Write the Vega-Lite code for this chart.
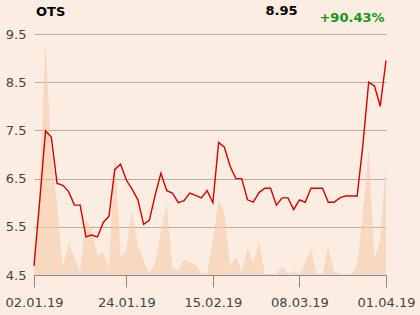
{
  "$schema": "https://vega.github.io/schema/vega-lite/v6.json",
  "width": 352,
  "height": 241,
  "autosize": {"type": "none"},
  "padding": {"left": 34, "top": 34, "right": 34, "bottom": 40},
  "background": "#fcede2",
  "config": {"view": {"stroke": null}, "font": "DejaVu Sans"},
  "data": {"values": [
    {"d": "02.01.19", "p": 4.69, "v": 120},
    {"d": "03.01.19", "p": 6.05, "v": 900},
    {"d": "04.01.19", "p": 7.49, "v": 2330},
    {"d": "07.01.19", "p": 7.36, "v": 1200},
    {"d": "08.01.19", "p": 6.40, "v": 700},
    {"d": "09.01.19", "p": 6.36, "v": 70},
    {"d": "10.01.19", "p": 6.23, "v": 320},
    {"d": "11.01.19", "p": 5.95, "v": 180},
    {"d": "14.01.19", "p": 5.95, "v": 30},
    {"d": "15.01.19", "p": 5.29, "v": 550},
    {"d": "16.01.19", "p": 5.33, "v": 460},
    {"d": "17.01.19", "p": 5.29, "v": 190},
    {"d": "18.01.19", "p": 5.59, "v": 230},
    {"d": "21.01.19", "p": 5.72, "v": 70},
    {"d": "22.01.19", "p": 6.69, "v": 1220},
    {"d": "23.01.19", "p": 6.80, "v": 180},
    {"d": "24.01.19", "p": 6.47, "v": 250},
    {"d": "25.01.19", "p": 6.28, "v": 630},
    {"d": "28.01.19", "p": 6.06, "v": 300},
    {"d": "29.01.19", "p": 5.55, "v": 150},
    {"d": "30.01.19", "p": 5.64, "v": 20},
    {"d": "31.01.19", "p": 6.16, "v": 130},
    {"d": "04.02.19", "p": 6.61, "v": 430},
    {"d": "05.02.19", "p": 6.25, "v": 720},
    {"d": "06.02.19", "p": 6.20, "v": 70},
    {"d": "07.02.19", "p": 6.00, "v": 50},
    {"d": "08.02.19", "p": 6.04, "v": 160},
    {"d": "11.02.19", "p": 6.20, "v": 130},
    {"d": "12.02.19", "p": 6.15, "v": 100},
    {"d": "13.02.19", "p": 6.10, "v": 20},
    {"d": "14.02.19", "p": 6.25, "v": 10},
    {"d": "15.02.19", "p": 6.00, "v": 350},
    {"d": "18.02.19", "p": 7.25, "v": 750},
    {"d": "19.02.19", "p": 7.15, "v": 620},
    {"d": "20.02.19", "p": 6.75, "v": 90},
    {"d": "21.02.19", "p": 6.50, "v": 180},
    {"d": "22.02.19", "p": 6.50, "v": 30},
    {"d": "25.02.19", "p": 6.06, "v": 270},
    {"d": "26.02.19", "p": 6.01, "v": 110},
    {"d": "27.02.19", "p": 6.21, "v": 330},
    {"d": "28.02.19", "p": 6.30, "v": 10},
    {"d": "01.03.19", "p": 6.30, "v": 10},
    {"d": "04.03.19", "p": 5.95, "v": 5},
    {"d": "05.03.19", "p": 6.10, "v": 90},
    {"d": "06.03.19", "p": 6.10, "v": 10},
    {"d": "07.03.19", "p": 5.86, "v": 40},
    {"d": "08.03.19", "p": 6.06, "v": 10},
    {"d": "11.03.19", "p": 6.01, "v": 120},
    {"d": "12.03.19", "p": 6.30, "v": 260},
    {"d": "13.03.19", "p": 6.30, "v": 10},
    {"d": "14.03.19", "p": 6.30, "v": 10},
    {"d": "18.03.19", "p": 6.01, "v": 280},
    {"d": "19.03.19", "p": 6.01, "v": 40},
    {"d": "20.03.19", "p": 6.10, "v": 10},
    {"d": "21.03.19", "p": 6.14, "v": 5},
    {"d": "22.03.19", "p": 6.14, "v": 5},
    {"d": "25.03.19", "p": 6.14, "v": 110},
    {"d": "26.03.19", "p": 7.20, "v": 600},
    {"d": "27.03.19", "p": 8.50, "v": 1280},
    {"d": "28.03.19", "p": 8.42, "v": 150},
    {"d": "29.03.19", "p": 8.00, "v": 350},
    {"d": "01.04.19", "p": 8.95, "v": 1120}
  ]},
  "encoding": {
    "x": {
      "field": "d", "type": "ordinal", "sort": null,
      "scale": {"type": "point", "padding": 0},
      "axis": {
        "values": ["02.01.19", "24.01.19", "15.02.19", "08.03.19", "01.04.19"],
        "labelAngle": 0, "labelFontSize": 13, "labelColor": "#444444", "labelFont": "DejaVu Sans",
        "labelPadding": 9, "labelOverlap": false, "labelFlush": false,
        "tickSize": 12, "tickColor": "#8a8a8a", "domainColor": "#8a8a8a", "grid": false,
        "title": "8.95", "titleX": 263, "titleY": -261, "titleAlign": "right", "titleAnchor": null,
        "titleBaseline": "alphabetic", "titleFontSize": 13, "titleFontWeight": "bold",
        "titleColor": "#000000", "titleFont": "DejaVu Sans"
      }
    }
  },
  "layer": [
    {
      "mark": {"type": "area", "color": "#f5c9a8", "opacity": 0.6, "interpolate": "linear"},
      "encoding": {
        "y": {
          "field": "v", "type": "quantitative",
          "scale": {"domain": [0, 2410], "nice": false, "zero": true},
          "axis": {
            "orient": "right", "labels": false, "ticks": false, "domain": false, "grid": false,
            "title": "+90.43%", "titleAngle": 0, "titleX": -2, "titleY": -12.5,
            "titleAlign": "right", "titleBaseline": "alphabetic", "titleAnchor": null,
            "titleFontSize": 13, "titleFontWeight": "bold", "titleColor": "#129912", "titleFont": "DejaVu Sans"
          }
        }
      }
    },
    {
      "mark": {"type": "line", "color": "#d40000", "strokeWidth": 1.4, "interpolate": "linear"},
      "encoding": {
        "y": {
          "field": "p", "type": "quantitative",
          "scale": {"domain": [4.5, 9.5], "nice": false, "zero": false},
          "axis": {
            "orient": "left", "values": [4.5, 5.5, 6.5, 7.5, 8.5, 9.5], "format": ".1f",
            "grid": true, "gridColor": "#b5afa9", "gridWidth": 1,
            "domain": false, "ticks": false, "labelPadding": 8,
            "labelFontSize": 13, "labelColor": "#444444", "labelFont": "DejaVu Sans",
            "title": "OTS", "titleAngle": 0, "titleX": 1.5, "titleY": -19,
            "titleAlign": "left", "titleBaseline": "alphabetic", "titleAnchor": null,
            "titleFontSize": 13, "titleFontWeight": "bold", "titleColor": "#000000", "titleFont": "DejaVu Sans"
          }
        }
      }
    }
  ],
  "resolve": {"scale": {"y": "independent"}, "axis": {"y": "independent"}}
}
